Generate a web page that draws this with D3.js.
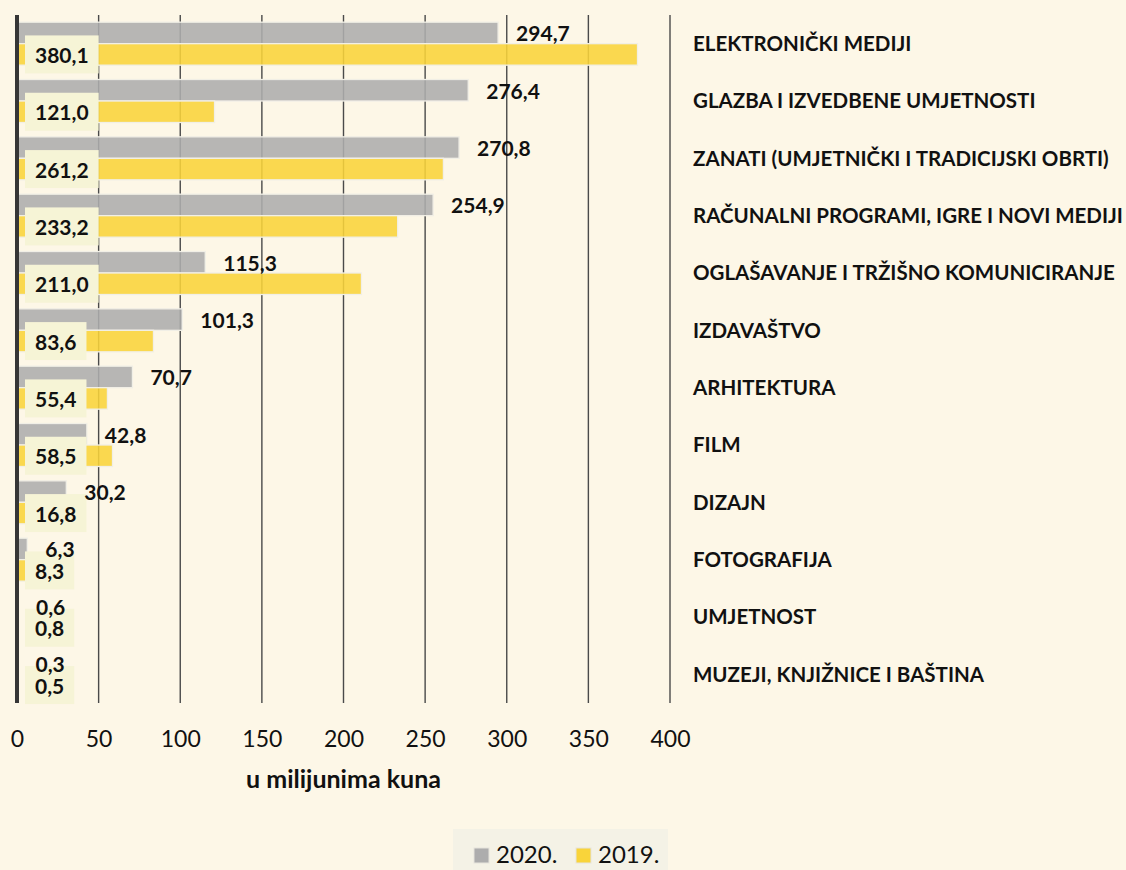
<!DOCTYPE html>
<html lang="hr">
<head>
<meta charset="utf-8">
<script src="https://cdn.jsdelivr.net/npm/d3@7"></script>
<style>
  html, body { margin: 0; padding: 0; background: #fdf7e7; }
  svg { display: block; font-family: Lato, "Open Sans", sans-serif; }
</style>
</head>
<body>
<svg id="chart" width="1126" height="870"></svg>
<script>
// Djelatnosti (top to bottom) and values in millions of kuna
const categories = [
  "ELEKTRONIČKI MEDIJI",
  "GLAZBA I IZVEDBENE UMJETNOSTI",
  "ZANATI (UMJETNIČKI I TRADICIJSKI OBRTI)",
  "RAČUNALNI PROGRAMI, IGRE I NOVI MEDIJI",
  "OGLAŠAVANJE I TRŽIŠNO KOMUNICIRANJE",
  "IZDAVAŠTVO",
  "ARHITEKTURA",
  "FILM",
  "DIZAJN",
  "FOTOGRAFIJA",
  "UMJETNOST",
  "MUZEJI, KNJIŽNICE I BAŠTINA"
];
const values2020 = [294.7, 276.4, 270.8, 254.9, 115.3, 101.3, 70.7, 42.8, 30.2, 6.3, 0.6, 0.3];
const values2019 = [380.1, 121.0, 261.2, 233.2, 211.0, 83.6, 55.4, 58.5, 16.8, 8.3, 0.8, 0.5];
const seriesNames = ["2020.", "2019."];
const tickValues = [0, 50, 100, 150, 200, 250, 300, 350, 400];
const axisTitle = "u milijunima kuna";

const colors = { "2020.": "#adadad", "2019.": "#f9d43a" };

const svg = d3.select("#chart");
const plot = { left: 17, right: 670, top: 15, bottom: 703 };

const x = d3.scaleLinear().domain([0, 400]).range([plot.left, plot.right]);
const y = d3.scaleBand().domain(categories).range([plot.top, plot.bottom])
  .paddingInner(0.25).paddingOuter(0.125);
const ySub = d3.scaleBand().domain(seriesNames).range([0, y.bandwidth()]);

const fmt = v => d3.format(".1f")(v).replace(".", ",");

const rows = categories.map((c, i) => ({
  cat: c,
  series: [
    { key: "2020.", value: values2020[i] },
    { key: "2019.", value: values2019[i] }
  ]
}));

// vertical grid lines
svg.append("g").selectAll("line").data(tickValues.slice(1)).join("line")
  .attr("x1", d => x(d)).attr("x2", d => x(d))
  .attr("y1", plot.top).attr("y2", plot.bottom)
  .attr("stroke", "#4a4a4a").attr("stroke-width", 1.4);

// bars
const groups = svg.append("g").selectAll("g").data(rows).join("g")
  .attr("transform", d => `translate(0,${y(d.cat)})`);

groups.selectAll("rect").data(d => d.series).join("rect")
  .attr("x", x(0))
  .attr("y", d => ySub(d.key))
  .attr("width", d => x(d.value) - x(0))
  .attr("height", ySub.bandwidth())
  .attr("fill", d => colors[d.key])
  .attr("fill-opacity", 0.88)
  .attr("stroke", "#f1efe6")
  .attr("stroke-width", 1.3);

// 2019 value labels in boxes at the start of the bar
const boxLayer = svg.append("g");
const textLayer = svg.append("g");
rows.forEach(d => {
  const cy = y(d.cat) + ySub("2019.") + ySub.bandwidth() / 2;
  const box = boxLayer.append("rect").attr("fill", "#f6f4d6");
  const t = textLayer.append("text")
    .attr("y", cy + 1).attr("dy", "0.36em")
    .attr("text-anchor", "middle")
    .attr("font-size", 21).attr("font-weight", 700).attr("fill", "#111")
    .text(fmt(d.series[1].value));
  const w = t.node().getComputedTextLength() + 20;
  const bx = x(0) + 8;
  box.attr("x", bx).attr("y", cy - 19).attr("width", w).attr("height", 38);
  t.attr("x", bx + w / 2);
});

// 2020 value labels, just past the bar end
textLayer.selectAll("text.v2020").data(rows).join("text")
  .attr("class", "v2020")
  .attr("x", d => x(d.series[0].value) + 18)
  .attr("y", d => y(d.cat) + ySub("2020.") + ySub.bandwidth() / 2 + 1)
  .attr("dy", "0.36em")
  .attr("font-size", 21).attr("font-weight", 700).attr("fill", "#111")
  .text(d => fmt(d.series[0].value));

// category axis on the right
const catLabels = svg.append("g").selectAll("text").data(categories).join("text")
  .attr("x", plot.right + 23)
  .attr("y", d => y(d) + y.bandwidth() / 2)
  .attr("dy", "0.35em")
  .attr("font-size", 20.5).attr("font-weight", 700).attr("fill", "#111")
  .text(d => d);
const widest = d3.max(catLabels.nodes(), n => n.getComputedTextLength());
const maxW = 1123 - (plot.right + 23);
if (widest > maxW) catLabels.attr("font-size", 20.5 * maxW / widest);

// zero axis line
svg.append("line")
  .attr("x1", x(0)).attr("x2", x(0))
  .attr("y1", plot.top).attr("y2", plot.bottom)
  .attr("stroke", "#363636").attr("stroke-width", 4);

// value axis labels
const xAxis = d3.axisBottom(x).tickValues(tickValues).tickSize(0).tickPadding(0)
  .tickFormat(d3.format("d"));
const ax = svg.append("g").attr("transform", `translate(0,${plot.bottom})`).call(xAxis);
ax.select(".domain").remove();
ax.selectAll("text")
  .attr("y", 44).attr("dy", 0)
  .attr("font-family", "Lato, sans-serif")
  .attr("font-size", 23).attr("fill", "#111");

svg.append("text")
  .attr("x", (plot.left + plot.right) / 2).attr("y", 788)
  .attr("text-anchor", "middle")
  .attr("font-size", 25).attr("font-weight", 700).attr("fill", "#111")
  .text(axisTitle);

// legend
const legend = svg.append("g");
legend.append("rect").attr("x", 453).attr("y", 829).attr("width", 215).attr("height", 45)
  .attr("fill", "#f4f2e6");
const items = legend.selectAll("g").data(seriesNames).join("g")
  .attr("transform", (d, i) => `translate(${i === 0 ? 474 : 576},0)`);
items.append("rect").attr("x", 0).attr("y", 848).attr("width", 15).attr("height", 15)
  .attr("fill", d => colors[d]).attr("stroke", "#e6e4dc").attr("stroke-width", 1);
items.append("text").attr("x", 22).attr("y", 863)
  .attr("font-size", 24).attr("fill", "#111").text(d => d);
</script>
</body>
</html>
